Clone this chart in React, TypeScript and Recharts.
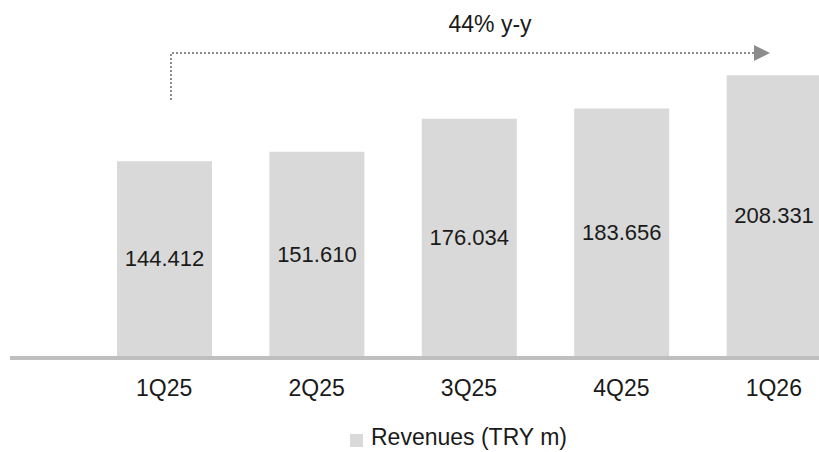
import React from "react";
import {
  BarChart,
  Bar,
  XAxis,
  YAxis,
  Legend,
  LabelList,
  Customized,
} from "recharts";

const quarters = ["1Q25", "2Q25", "3Q25", "4Q25", "1Q26"];
const revenues = [144.412, 151.61, 176.034, 183.656, 208.331];
const growthLabel = "44% y-y";
const seriesName = "Revenues (TRY m)";

const data = quarters.map((q, i) => ({ quarter: q, revenue: revenues[i] }));

const FONT = "'Liberation Sans', Arial, sans-serif";

function GrowthArrow() {
  return (
    <g>
      <path
        d="M171,100 L171,53 L756,53"
        fill="none"
        stroke="#8c8c8c"
        strokeWidth={2}
        strokeDasharray="2 2"
      />
      <polygon points="754,45 770,53 754,61" fill="#8c8c8c" />
      <text
        x={490}
        y={32}
        textAnchor="middle"
        fontFamily={FONT}
        fontSize={23}
        fill="#1a1a1a"
      >
        {growthLabel}
      </text>
    </g>
  );
}

function LegendContent() {
  return (
    <div
      style={{
        height: 30,
        display: "flex",
        alignItems: "center",
        fontFamily: FONT,
        fontSize: 23,
        color: "#1a1a1a",
      }}
    >
      <span
        style={{
          display: "inline-block",
          width: 13,
          height: 13,
          background: "#d9d9d9",
          marginRight: 8,
          marginTop: 6,
        }}
      />
      <span>{seriesName}</span>
    </div>
  );
}

export default function App() {
  return (
    <div
      style={{
        position: "absolute",
        left: 0,
        top: 0,
        width: 819,
        height: 452,
        overflow: "hidden",
        background: "#fff",
      }}
    >
      <BarChart
        width={850}
        height={452}
        data={data}
        margin={{ top: 19, right: 0, left: 10, bottom: 0 }}
      >
        <XAxis
          dataKey="quarter"
          padding={{ left: 78, right: 0 }}
          height={66}
          tickLine={false}
          tickSize={0}
          tickMargin={24}
          axisLine={{
            stroke: "#bfbfbf",
            strokeWidth: 4,
            transform: "translate(0,2)",
          }}
          tick={{ fill: "#1a1a1a", fontSize: 23, fontFamily: FONT }}
        />
        <YAxis hide domain={[0, 250]} />
        <Legend
          verticalAlign="bottom"
          content={LegendContent}
          wrapperStyle={{ left: 350, width: 300 }}
        />
        <Bar
          dataKey="revenue"
          name={seriesName}
          fill="#d9d9d9"
          barSize={95}
          isAnimationActive={false}
        >
          <LabelList
            dataKey="revenue"
            position="center"
            formatter={(v: number) => v.toFixed(3)}
            style={{ fill: "#1a1a1a", fontSize: 22, fontFamily: FONT }}
          />
        </Bar>
        <Customized component={GrowthArrow} />
      </BarChart>
    </div>
  );
}
